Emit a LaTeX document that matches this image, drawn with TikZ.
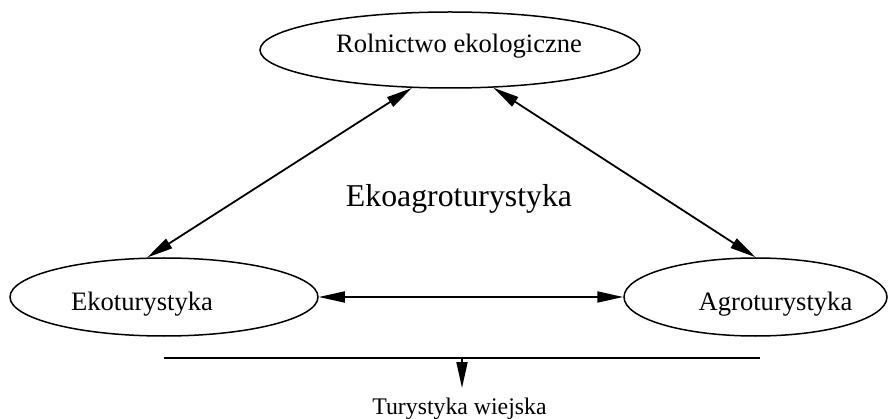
\documentclass[tikz,border=0pt]{standalone}
\usepackage{fontspec}
\setmainfont{Liberation Serif}
\usetikzlibrary{shapes.geometric,arrows.meta}
\begin{document}
\begin{tikzpicture}[x=1pt,y=-1pt,
  oval/.style={draw,ellipse,line width=1.5pt,inner sep=0pt},
  lbl/.style={anchor=base,inner sep=0pt,font=\fontsize{26.6}{30}\selectfont},
  conn/.style={line width=1.8pt,{Triangle[length=26pt,width=11pt]}-{Triangle[length=26pt,width=11pt]}},
  down/.style={line width=1.8pt,-{Triangle[length=26pt,width=11pt]}}]
\useasboundingbox (0,0) rectangle (888,419);
\node[oval,minimum width=380pt,minimum height=76pt] (r) at (450,50) {};
\node[oval,minimum width=308pt,minimum height=78pt] (e) at (164,297) {};
\node[oval,minimum width=263pt,minimum height=78pt] (a) at (755.5,297) {};
\node[lbl] (rt) at (459,53) {Rolnictwo ekologiczne};
\node[lbl] (et) at (142,311) {Ekoturystyka};
\node[lbl] (at) at (775.5,311) {Agroturystyka};
\node[anchor=base,inner sep=0pt,font=\fontsize{31.8}{36}\selectfont] (c) at (459,207) {Ekoagroturystyka};
\node[anchor=base,inner sep=0pt,font=\fontsize{23.8}{28}\selectfont] (tw) at (459.5,414) {Turystyka wiejska};
\draw[conn] (e.113) -- (r.225);
\draw[conn] (a.north) -- (r.-41.5);
\draw[conn] (e.east) -- (a.west);
\coordinate (l1) at (164,358);
\coordinate (l2) at (760,358);
\coordinate (ld) at (462,358);
\coordinate (tip) at (462,388);
\draw[line width=2.5pt] (l1) -- (l2);
\draw[down] (ld) -- (tip);
\end{tikzpicture}
\end{document}
